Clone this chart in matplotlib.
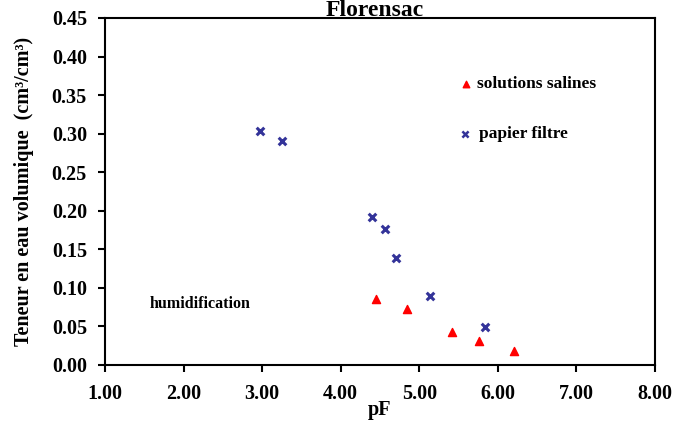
import matplotlib
matplotlib.use("Agg")
import matplotlib.pyplot as plt

pf_papier = [2.97, 3.25, 4.40, 4.56, 4.70, 5.13, 5.83]
theta_papier = [0.303, 0.291, 0.192, 0.177, 0.139, 0.089, 0.049]
pf_salines = [4.45, 4.84, 5.41, 5.76, 6.20]
theta_salines = [0.085, 0.072, 0.043, 0.031, 0.018]
xticks = [1, 2, 3, 4, 5, 6, 7, 8]
yticks = [0.0, 0.05, 0.10, 0.15, 0.20, 0.25, 0.30, 0.35, 0.40, 0.45]

plt.rcParams['font.family'] = ['Liberation Serif', 'DejaVu Serif']
plt.rcParams['font.weight'] = 'bold'

fig = plt.figure(figsize=(6.73, 4.21), dpi=100)
ax = fig.add_axes([105/673, 1-365/421, 550/673, 347/421])

ax.scatter(pf_salines, theta_salines, marker='^', color='#ff0000', s=34, zorder=3)
ax.scatter(pf_papier, theta_papier, marker='x', color='#333399', s=30, linewidths=2.2, zorder=3)

ax.set_xlim(1, 8)
ax.set_ylim(0, 0.45)
ax.set_xticks(xticks)
ax.set_xticklabels([f"{v:.2f}" for v in xticks])
ax.set_yticks(yticks)
ax.set_yticklabels([f"{v:.2f}" for v in yticks])
ax.tick_params(direction='out', length=5, width=1.5, labelsize=14.5)
ax.tick_params(axis='y', pad=8)
ax.tick_params(axis='x', pad=9)
for lab in ax.get_xticklabels() + ax.get_yticklabels():
    lab.set_fontweight('bold')
for s in ax.spines.values():
    s.set_linewidth(1.5)

ax.set_xlabel('pF', fontsize=14.5, fontweight='bold', labelpad=-3)
ax.set_ylabel('Teneur en eau volumique  (cm³/cm³)', fontsize=14.5, fontweight='bold', labelpad=13)
fig.text(375/673, 1.0, 'Florensac', ha='center', va='top', fontsize=17, fontweight='bold')

# legend-like annotations
ax.scatter([5.6], [0.364], marker='^', color='#ff0000', s=22, clip_on=False)
ax.text(5.73, 0.364, 'solutions salines', fontsize=12.5, fontweight='bold', va='center')
ax.scatter([5.58], [0.299], marker='x', color='#333399', s=20, linewidths=1.8, clip_on=False)
ax.text(5.76, 0.299, 'papier filtre', fontsize=12.5, fontweight='bold', va='center')
ax.text(1.57, 0.079, 'humidification', fontsize=11.5, fontweight='bold', va='center')

fig.savefig('out.png', dpi=100)
